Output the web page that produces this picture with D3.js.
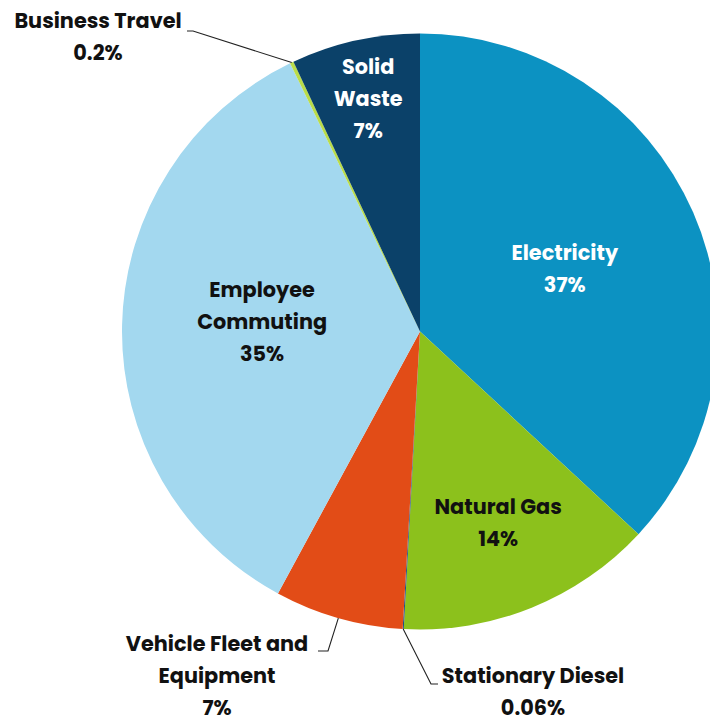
<!DOCTYPE html>
<html>
<head>
<meta charset="utf-8">
<script src="https://cdn.jsdelivr.net/npm/d3@7"></script>
<style>
  html, body { margin: 0; padding: 0; background: #ffffff; }
  svg { display: block; }
  text { font-family: "Poppins", "Open Sans", sans-serif; font-weight: 700; }
</style>
</head>
<body>
<svg id="chart" width="710" height="719"></svg>
<script>
// Emission sources, clockwise from 12 o'clock
const categories = ["Electricity", "Natural Gas", "Stationary Diesel", "Vehicle Fleet and Equipment",
                    "Employee Commuting", "Business Travel", "Solid Waste"];
const values = [37, 14, 0.06, 7, 35, 0.2, 7];
const valueLabels = ["37%", "14%", "0.06%", "7%", "35%", "0.2%", "7%"];
const nameLines = [["Electricity"], ["Natural Gas"], ["Stationary Diesel"], ["Vehicle Fleet and", "Equipment"],
                   ["Employee", "Commuting"], ["Business Travel"], ["Solid", "Waste"]];
const colors = ["#0c92c2", "#8cc11c", "#1d4f86", "#e24c17", "#a3d8ef", "#b9dc4a", "#0b4169"];

// Label placement
const cx = 420, cy = 331.5, R = 298;
const fontSize = 20.8, lineH = 32;
const inside = {
  "Electricity":        { k: 0.53, fill: "#ffffff", dy: 0 },
  "Natural Gas":        { k: 0.70, fill: "#111111", dy: -2 },
  "Employee Commuting": { k: 0.53, fill: "#111111", dy: -6 },
  "Solid Waste":        { k: 0.80, fill: "#ffffff", dy: 0 }
};
const outside = {
  "Business Travel":             { elbow: [193, 31], end: [187, 31], tx: 98,  ty: 29 },
  "Stationary Diesel":           { elbow: [431, 684], end: [438, 684], tx: 533, ty: 684 },
  "Vehicle Fleet and Equipment": { elbow: [328, 651], end: [318, 651], tx: 217, ty: 652 }
};

const svg = d3.select("#chart");
const g = svg.append("g").attr("transform", `translate(${cx},${cy})`);

const pie = d3.pie().sort(null).value(d => d.value);
const data = categories.map((c, i) => ({ name: c, value: values[i], color: colors[i],
                                         pct: valueLabels[i], lines: nameLines[i] }));
const arcs = pie(data);
const arc = d3.arc().innerRadius(0).outerRadius(R);

g.selectAll("path.slice")
  .data(arcs)
  .join("path")
  .attr("class", "slice")
  .attr("d", arc)
  .attr("fill", d => d.data.color);

// Labels inside the slices
arcs.filter(a => inside[a.data.name]).forEach(a => {
  const cfg = inside[a.data.name];
  const [x, y] = d3.arc().innerRadius(0).outerRadius(2 * R * cfg.k).centroid(a);
  const lines = a.data.lines.concat([a.data.pct]);
  const t = g.append("text")
    .attr("text-anchor", "middle")
    .attr("font-size", fontSize)
    .attr("fill", cfg.fill);
  const y0 = y + cfg.dy - (lines.length - 1) * lineH / 2;
  lines.forEach((s, i) => {
    t.append("tspan").attr("x", x).attr("y", y0 + i * lineH).attr("dy", "0.35em").text(s);
  });
});

// Labels outside the pie with leader lines
arcs.filter(a => outside[a.data.name]).forEach(a => {
  const cfg = outside[a.data.name];
  const mid = (a.startAngle + a.endAngle) / 2;
  const p = [cx + R * Math.sin(mid), cy - R * Math.cos(mid)];
  svg.append("polyline")
    .attr("points", [p, cfg.elbow, cfg.end].map(q => q.join(",")).join(" "))
    .attr("fill", "none")
    .attr("stroke", "#222222")
    .attr("stroke-width", 1.1);
  const lines = a.data.lines.concat([a.data.pct]);
  const t = svg.append("text")
    .attr("text-anchor", "middle")
    .attr("font-size", fontSize)
    .attr("fill", "#111111");
  lines.forEach((s, i) => {
    t.append("tspan").attr("x", cfg.tx).attr("y", cfg.ty + i * lineH).attr("dy", "-0.05em").text(s);
  });
});
</script>
</body>
</html>
